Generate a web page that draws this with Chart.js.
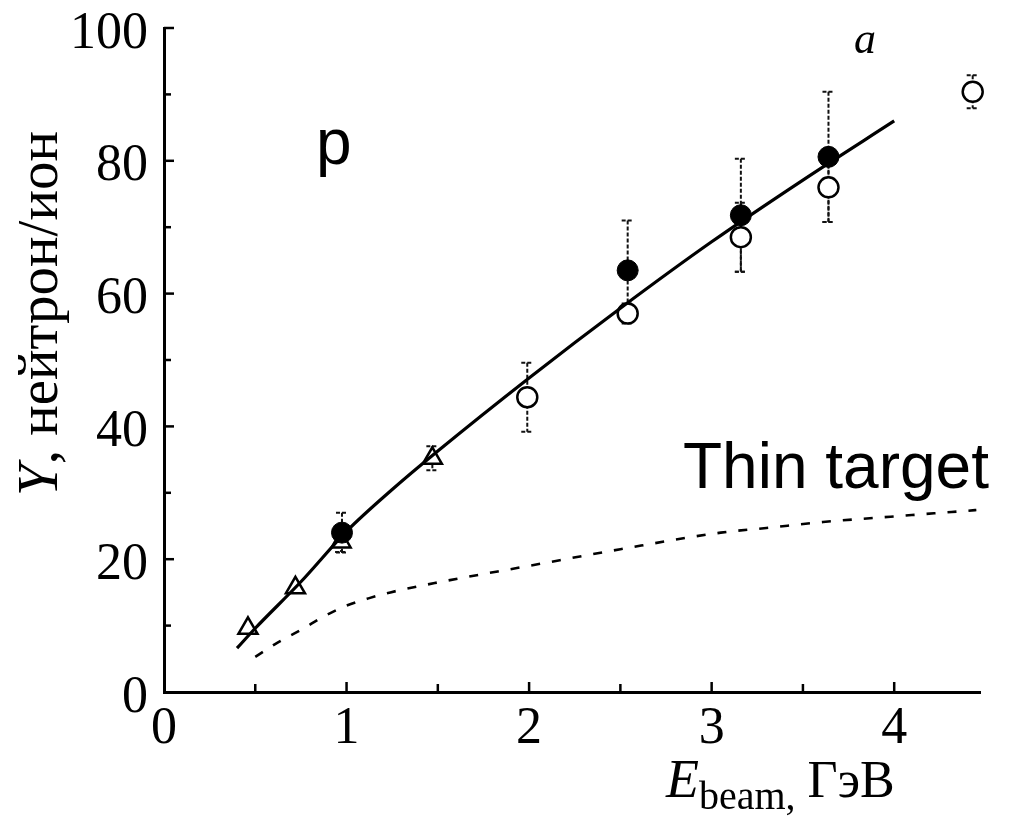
<!DOCTYPE html>
<html>
<head>
<meta charset="utf-8">
<title>Neutron yield vs beam energy</title>
<script src="https://cdn.jsdelivr.net/npm/chart.js@4.4.1/dist/chart.umd.min.js"></script>
<style>
    html, body { margin: 0; padding: 0; background: #fff; }
    #wrap { width: 1024px; height: 819px; }
</style>
</head>
<body>
<div id="wrap"><canvas id="yieldChart" width="1024" height="819"></canvas></div>
<script>
// Measured yields (open circles, filled circles, triangles) with errors
const openX = [1.99, 2.54, 3.16, 3.64, 4.43];
const openY = [44.4, 57.0, 68.5, 76.0, 90.4];
const openErr = [5.2, 1.5, 5.2, 5.2, 2.5];

const filledX = [0.975, 2.54, 3.16, 3.64];
const filledY = [24.0, 63.5, 71.8, 80.6];
const filledErr = [3.0, 7.5, 8.5, 9.8];

const triX = [0.46, 0.72, 0.97, 1.47];
const triY = [9.6, 15.7, 22.6, 35.2];
const triErr = [0, 0, 1.5, 1.8];

// Calculated curves: thick target (solid) and thin target (dashed)
const fitX = [0.4, 0.5, 0.75, 1.0, 1.25, 1.5, 2.0, 2.5, 3.0, 3.5, 4.0];
const fitY = [6.6, 9.6, 16.6, 24.2, 30.5, 36.3, 47.3, 57.8, 67.8, 77.1, 86.0];

const thinX = [0.5, 0.62, 0.76, 0.87, 1.0, 1.12, 1.24, 1.5, 2.0, 2.5, 3.05, 3.3, 3.61, 3.98, 4.45];
const thinY = [5.3, 7.4, 9.5, 11.3, 13.0, 14.1, 15.0, 16.5, 19.0, 21.5, 24.0, 24.7, 25.6, 26.4, 27.4];

const xTicks = [0, 1, 2, 3, 4];
const yTicks = [0, 20, 40, 60, 80, 100];

const SERIF = "'Liberation Serif', 'DejaVu Serif', serif";
const SANS = "'Liberation Sans', Arial, sans-serif";

function toPoints(xs, ys) {
    return xs.map((x, i) => ({ x: x, y: ys[i] }));
}

// vertical dashed error bars with little caps, drawn under the markers
const errorBars = {
    id: 'errorBars',
    beforeDatasetsDraw(chart) {
        const ctx = chart.ctx;
        const xs = chart.scales.x, ys = chart.scales.y;
        const groups = [
            [openX, openY, openErr],
            [filledX, filledY, filledErr],
            [triX, triY, triErr]
        ];
        ctx.save();
        ctx.strokeStyle = '#111';
        ctx.lineWidth = 2;
        ctx.setLineDash([4, 2]);
        groups.forEach(([gx, gy, ge]) => {
            gx.forEach((x, i) => {
                if (!ge[i]) return;
                const px = xs.getPixelForValue(x);
                const top = ys.getPixelForValue(gy[i] + ge[i]);
                const bot = ys.getPixelForValue(gy[i] - ge[i]);
                ctx.beginPath();
                ctx.moveTo(px, top);
                ctx.lineTo(px, bot);
                ctx.moveTo(px - 6, top);
                ctx.lineTo(px + 6, top);
                ctx.moveTo(px - 6, bot);
                ctx.lineTo(px + 6, bot);
                ctx.stroke();
            });
        });
        ctx.restore();
    }
};

// inward tick marks, axis titles and the panel annotations
const decorations = {
    id: 'decorations',
    afterDraw(chart) {
        const ctx = chart.ctx;
        const xs = chart.scales.x, ys = chart.scales.y;
        const area = chart.chartArea;
        ctx.save();
        ctx.strokeStyle = '#000';
        ctx.lineWidth = 2.5;
        for (let v = 10; v <= 100; v += 10) {
            const py = ys.getPixelForValue(v);
            const len = v % 20 === 0 ? 10 : 7;
            ctx.beginPath();
            ctx.moveTo(area.left, py);
            ctx.lineTo(area.left + len, py);
            ctx.stroke();
        }
        for (let v = 0.5; v <= 4.0; v += 0.5) {
            const px = xs.getPixelForValue(v);
            const len = Number.isInteger(v) ? 10 : 8;
            ctx.beginPath();
            ctx.moveTo(px, area.bottom);
            ctx.lineTo(px, area.bottom - len);
            ctx.stroke();
        }

        ctx.fillStyle = '#000';
        ctx.textBaseline = 'alphabetic';

        // y axis title, rotated
        ctx.save();
        ctx.translate(57, 496);
        ctx.rotate(-Math.PI / 2);
        ctx.textAlign = 'left';
        ctx.font = 'italic 57px ' + SERIF;
        ctx.fillText('Y', 0, 0);
        const yw = ctx.measureText('Y').width;
        ctx.font = '57px ' + SERIF;
        ctx.fillText(', нейтрон/ион', yw, 0);
        ctx.restore();

        // x axis title
        ctx.textAlign = 'left';
        ctx.font = 'italic 54px ' + SERIF;
        ctx.fillText('E', 666, 797);
        let cx = 666 + ctx.measureText('E').width;
        ctx.font = '40px ' + SERIF;
        ctx.fillText('beam,', cx, 809);
        cx += ctx.measureText('beam,').width + 12;
        ctx.font = '52px ' + SERIF;
        ctx.fillText('ГэВ', cx, 797);

        // panel letter and labels
        ctx.font = 'italic 44px ' + SERIF;
        ctx.fillText('a', 854, 53);
        ctx.font = '64px ' + SANS;
        ctx.fillText('p', 316, 164);
        ctx.fillText('Thin target', 683, 488);
        ctx.restore();
    }
};

const ctx = document.getElementById('yieldChart').getContext('2d');
new Chart(ctx, {
    type: 'scatter',
    data: {
        datasets: [
            {
                type: 'line',
                data: toPoints(fitX, fitY),
                borderColor: '#000',
                borderWidth: 3.2,
                pointRadius: 0,
                cubicInterpolationMode: 'monotone',
                fill: false
            },
            {
                type: 'line',
                data: toPoints(thinX, thinY),
                borderColor: '#000',
                borderWidth: 2.6,
                borderDash: [9, 12],
                pointRadius: 0,
                cubicInterpolationMode: 'monotone',
                fill: false
            },
            {
                data: toPoints(openX, openY),
                pointStyle: 'circle',
                pointRadius: 10,
                pointBorderWidth: 2.5,
                borderColor: '#000',
                backgroundColor: '#fff',
                clip: false
            },
            {
                data: toPoints(filledX, filledY),
                pointStyle: 'circle',
                pointRadius: 10.5,
                pointBorderWidth: 1,
                borderColor: '#000',
                backgroundColor: '#000'
            },
            {
                data: toPoints(triX, triY),
                pointStyle: 'triangle',
                pointRadius: 11,
                pointBorderWidth: 2.5,
                borderColor: '#000',
                backgroundColor: '#fff'
            }
        ]
    },
    options: {
        responsive: false,
        animation: false,
        devicePixelRatio: 1,
        layout: { padding: { top: 28, right: 44, left: 0, bottom: 0 } },
        plugins: {
            legend: { display: false },
            tooltip: { enabled: false }
        },
        scales: {
            x: {
                type: 'linear',
                min: 0,
                max: 4.47,
                afterFit: s => {
                    s.height = 127;
                    s.paddingLeft = 0;
                    s.paddingRight = 0;
                },
                afterBuildTicks: s => { s.ticks = xTicks.map(v => ({ value: v })); },
                grid: { display: false, drawTicks: false },
                border: { display: true, color: '#000', width: 3 },
                ticks: {
                    color: '#000',
                    font: { family: SERIF, size: 52 },
                    padding: 6,
                    maxRotation: 0
                }
            },
            y: {
                type: 'linear',
                min: 0,
                max: 100,
                afterFit: s => {
                    s.width = 164;
                    s.paddingTop = 0;
                    s.paddingBottom = 0;
                },
                afterBuildTicks: s => { s.ticks = yTicks.map(v => ({ value: v })); },
                grid: { display: false, drawTicks: false },
                border: { display: true, color: '#000', width: 3 },
                ticks: {
                    color: '#000',
                    font: { family: SERIF, size: 52 },
                    padding: 16,
                    labelOffset: 6
                }
            }
        }
    },
    plugins: [errorBars, decorations]
});
</script>
</body>
</html>
